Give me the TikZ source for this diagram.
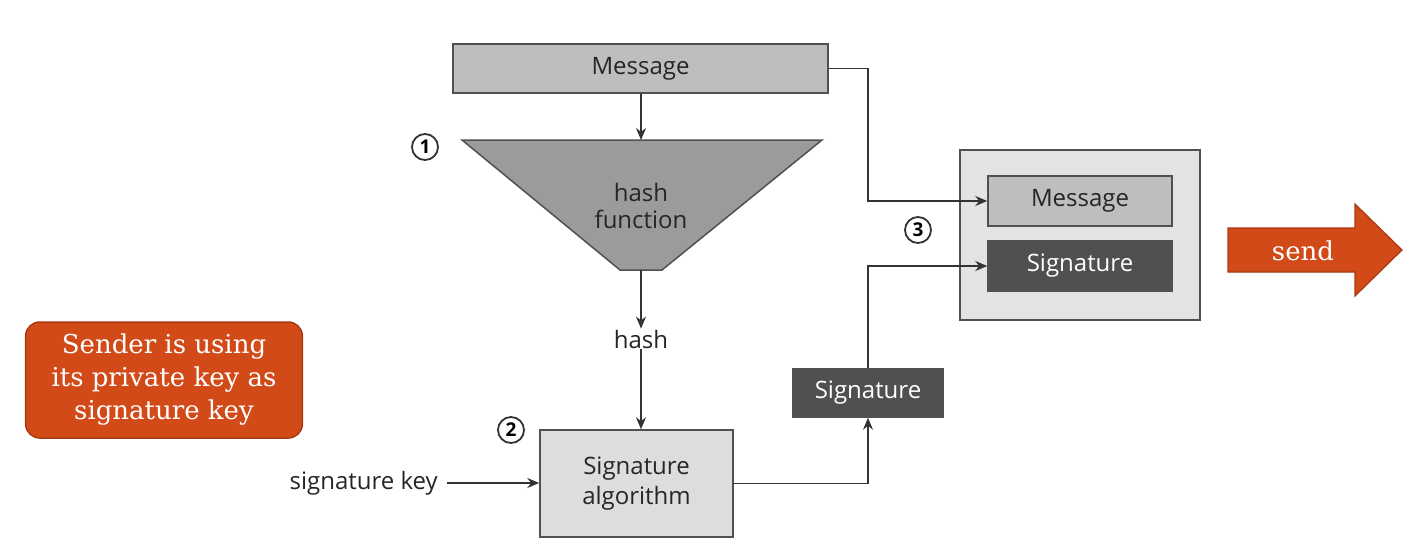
\documentclass[tikz,border=0pt]{standalone}
\usepackage{fontspec}
\setmainfont{DejaVu Serif}
\newfontfamily\diag{Open Sans}
\usetikzlibrary{arrows.meta}
\definecolor{lgray}{HTML}{BDBEC0}
\definecolor{mgray}{HTML}{9A9B9D}
\definecolor{pgray}{HTML}{DCDDDE}
\definecolor{ogray}{HTML}{E2E3E4}
\definecolor{dgray}{HTML}{4F5052}
\definecolor{edge}{HTML}{505050}
\definecolor{orng}{HTML}{D24A18}
\definecolor{orngdark}{HTML}{A83A12}
\tikzset{
  box/.style={draw=edge,line width=1.5pt,inner sep=0pt,font=\diag\fontsize{24}{29}\selectfont,text=black!85},
  darkbox/.style={box,fill=dgray,text=white},
  conn/.style={draw=black!80,line width=1.4pt,-{Stealth[length=12pt,width=10pt]}},
  num/.style={circle,draw=black!80,line width=1.8pt,minimum size=26pt,inner sep=0pt,font=\diag\bfseries\fontsize{19}{19}\selectfont},
  lbl/.style={font=\diag\fontsize{24}{29}\selectfont,text=black!85,inner sep=1pt}
}
\begin{document}
\begin{tikzpicture}[x=1pt,y=-1pt]
\useasboundingbox (0,0) rectangle (1410,554);
% top message
\node[box,fill=lgray,minimum width=375pt,minimum height=49pt] (msg) at (640.5,68.5) {\raisebox{-2pt}{Message}};
% hash trapezoid
\path[draw=edge,line width=1.5pt,fill=mgray] (462,140) -- (822,140) -- (662,270) -- (620,270) -- cycle;
\coordinate (htop) at (641,140);
\coordinate (hbot) at (641,270);
\node[lbl,align=center] (hf) at (641,206) {hash\\[-2pt]function};
\node[num] (n1) at (425,147) {1};
% hash label
\node[lbl] (hash) at (641,339) {hash};
% signature algorithm
\node[box,fill=pgray,minimum width=193pt,minimum height=107pt,align=center] (alg) at (636.5,483.5) {Signature\\[1pt]algorithm};
\node[num] (n2) at (511,430) {2};
\node[lbl,anchor=east] (skey) at (439,483) {signature key};
% small signature
\node[darkbox,minimum width=150pt,minimum height=48pt] (sig) at (868,393) {Signature};
% outer package
\node[box,fill=ogray,minimum width=240pt,minimum height=170pt] (pkg) at (1080,235) {};
\node[box,fill=lgray,minimum width=184pt,minimum height=50pt] (pmsg) at (1080,201) {\raisebox{-2pt}{Message}};
\node[darkbox,minimum width=184pt,minimum height=50pt] (psig) at (1080,266) {Signature};
\node[num] (n3) at (918,230) {3};
% connectors
\draw[conn] (msg.south -| htop) -- (htop);
\draw[conn] (hbot) -- (hash.north);
\draw[conn] (hash.south) -- (alg.north -| hash.south);
\draw[conn] ([xshift=8pt]skey.east) -- (alg.west |- skey.east);
\draw[conn] (alg.east) -- (alg.east -| sig.south) -- (sig.south);
\draw[conn] (sig.north) -- (sig.north |- psig.west) -- (psig.west);
\draw[conn] (msg.east) -- (868,68.5) -- (868,201) -- (pmsg.west);
% send arrow
\path[draw=orngdark,line width=1.2pt,fill=orng] (1228,228) -- (1355,228) -- (1355,204) -- (1402,250) -- (1355,296) -- (1355,272) -- (1228,272) -- cycle;
\node[text=white,font=\fontsize{26}{26}\selectfont] (sendt) at (1303,251) {send};
% note box
\node[draw=orngdark,line width=1.5pt,fill=orng,rounded corners=14pt,minimum width=274pt,minimum height=116pt,text=white,align=center,font=\fontsize{26}{33}\selectfont] (note) at (164,380) {\raisebox{-4pt}{\parbox{270pt}{\centering Sender is using\\its private key as\\signature key}}};
\end{tikzpicture}
\end{document}
